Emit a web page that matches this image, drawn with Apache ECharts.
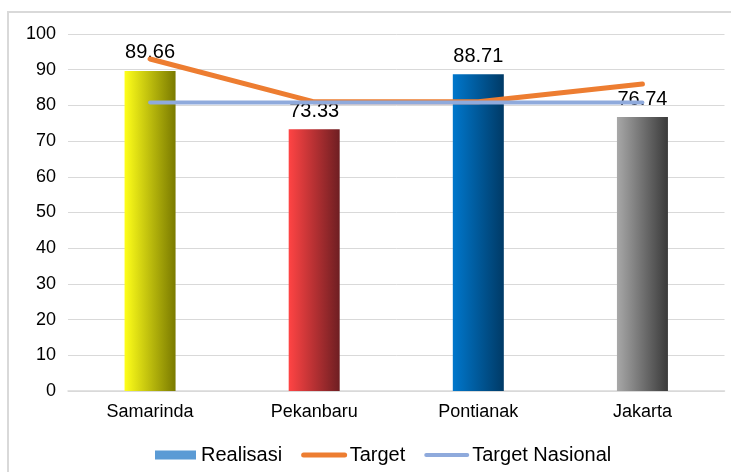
<!DOCTYPE html>
<html>
<head>
<meta charset="utf-8">
<script src="https://cdn.jsdelivr.net/npm/echarts@6/dist/echarts.min.js"></script>
<style>
html,body{margin:0;padding:0;background:#fff;}
#chart{width:731px;height:472px;}
</style>
</head>
<body>
<div id="chart"></div>
<script>
const categories = ['Samarinda', 'Pekanbaru', 'Pontianak', 'Jakarta'];
const realisasi = [89.66, 73.33, 88.71, 76.74];
const target = [93, 81, 81, 86];
const targetNasional = [80.8, 80.8, 80.8, 80.8];
const yTicks = [0, 10, 20, 30, 40, 50, 60, 70, 80, 90, 100];

const barGradients = [
  ['#ffff1a', '#7a7a00'],
  ['#ff4444', '#6e1e22'],
  ['#0077cc', '#003a66'],
  ['#a8a8a8', '#3a3a3a']
];

function grad(c) {
  return new echarts.graphic.LinearGradient(0, 0, 1, 0, [
    { offset: 0, color: c[0] },
    { offset: 1, color: c[1] }
  ]);
}

const chart = echarts.init(document.getElementById('chart'), null, { renderer: 'canvas' });
const font = 'Liberation Sans, Arial, sans-serif';

chart.setOption({
  animation: false,
  textStyle: { fontFamily: font },
  graphic: [{
    type: 'rect',
    shape: { x: 8, y: 12, width: 740, height: 480 },
    style: { fill: 'none', stroke: '#d9d9d9', lineWidth: 2 },
    z: -10
  }],
  grid: { left: 68, right: 6.5, top: 34, bottom: 81, containLabel: false },
  legend: {
    left: 150,
    top: 440,
    itemGap: 19,
    itemWidth: 41,
    itemHeight: 9,
    textStyle: { fontSize: 20, color: '#000', fontFamily: font },
    data: [
      { name: 'Realisasi', icon: 'rect', itemStyle: { color: '#5b9bd5' } },
      { name: 'Target', itemStyle: { opacity: 0 }, lineStyle: { width: 5, color: '#ed7d31', cap: 'round' } },
      { name: 'Target Nasional', itemStyle: { opacity: 0 }, lineStyle: { width: 4, color: '#8faadc', cap: 'round' } }
    ]
  },
  xAxis: {
    type: 'category',
    data: categories,
    axisLine: { lineStyle: { color: '#d9d9d9', width: 1.5 } },
    axisTick: { show: false },
    axisLabel: { color: '#000', fontSize: 18, margin: 12, fontFamily: font }
  },
  yAxis: {
    type: 'value',
    min: yTicks[0],
    max: yTicks[yTicks.length - 1],
    interval: 10,
    axisLine: { show: false },
    axisTick: { show: false },
    splitLine: { lineStyle: { color: '#d9d9d9', width: 1 } },
    axisLabel: { color: '#000', fontSize: 18, margin: 12, fontFamily: font }
  },
  series: [
    {
      name: 'Realisasi',
      type: 'bar',
      barWidth: 51,
      data: realisasi.map((v, i) => ({ value: v, itemStyle: { color: grad(barGradients[i]) } })),
      itemStyle: { color: '#5b9bd5' },
      label: {
        show: true, position: 'top', distance: 8,
        color: '#000', fontSize: 20, fontFamily: font,
        formatter: p => p.value.toFixed(2)
      },
      z: 2
    },
    {
      name: 'Target',
      type: 'line',
      data: target,
      symbol: 'none',
      lineStyle: { color: '#ed7d31', width: 5, cap: 'round' },
      itemStyle: { color: '#ed7d31' },
      z: 3
    },
    {
      name: 'Target Nasional',
      type: 'line',
      data: targetNasional,
      symbol: 'none',
      lineStyle: { color: '#8faadc', width: 4, cap: 'round' },
      itemStyle: { color: '#8faadc' },
      z: 3
    }
  ]
});
</script>
</body>
</html>
